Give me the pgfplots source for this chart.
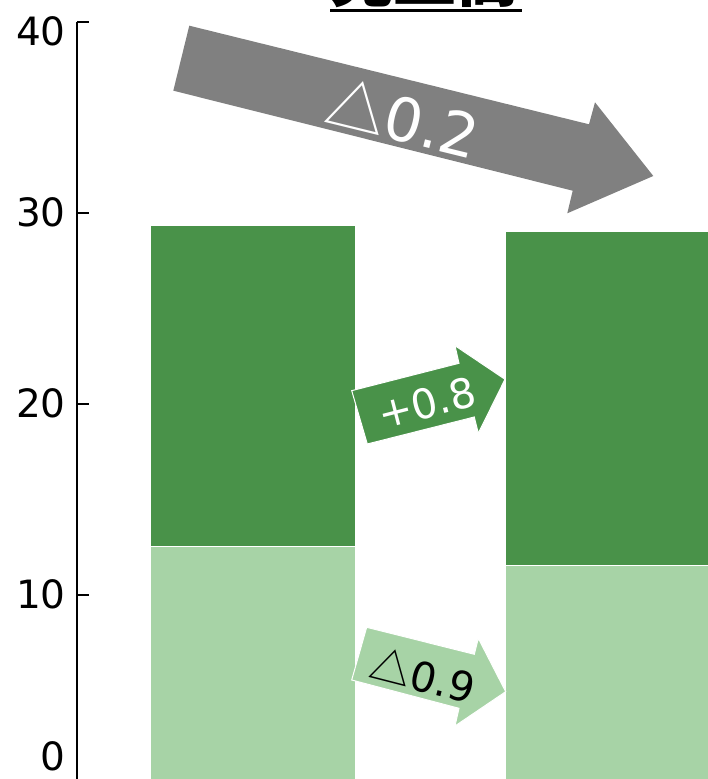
\documentclass[border=0pt]{standalone}
\usepackage{pgfplots}
\pgfplotsset{compat=1.18}
\usepackage{fontspec}
\setmainfont{DejaVu Sans}
\newfontfamily\jp{Noto Sans CJK JP}
\definecolor{darkg}{HTML}{499249}
\definecolor{lightg}{HTML}{A7D3A6}
\definecolor{arrgray}{HTML}{808080}
\begin{document}
\begin{tikzpicture}
\path[use as bounding box] (-77bp,6.6bp) rectangle (631bp,785.6bp);
\clip (-77bp,6.6bp) rectangle (631bp,785.6bp);
\begin{axis}[
  x=355bp, y=19.1bp,
  xmin=-0.4958, xmax=1.6, ymin=0, ymax=40,
  axis y line=left, axis x line=none,
  y axis line style={-, line width=2bp, black},
  xtick=\empty,
  ytick={0,10,20,30,40},
  yticklabels={\raisebox{29.6bp}[0.73em][0pt]{0},10,20,30,\raisebox{-10bp}[0.73em][0pt]{40}},
  yticklabel style={font=\fontsize{39bp}{46bp}\selectfont, text=black, inner xsep=0bp, xshift=-11bp},
  tick align=inside, major tick length=12bp,
  every tick/.style={black, line width=2bp},
  ybar stacked, bar width=0.58,
  clip=false,
]
\addplot[fill=lightg, draw=white, line width=1bp] coordinates {(0,12.5) (1,11.5)};
\addplot[fill=darkg, draw=white, line width=1bp] coordinates {(0,16.8) (1,17.5)};
\end{axis}
\begin{scope}[shift={(-77bp,785.6bp)}, x=1bp, y=-1bp]
  % title (mostly cut off at the top)
  \node[anchor=base, inner sep=0, font=\jp\bfseries\fontsize{63bp}{70bp}\selectfont] at (425.5,1.7) {売上高};
  \fill[black] (330,9.3) rectangle (522,12);
  % gray arrow
  \fill[arrgray] (189.3,25.7) -- (589,124.3) -- (595,102.3) -- (653.3,176) -- (567.3,213.3) -- (572.7,190.7) -- (173.3,90.7) -- cycle;
  \node[rotate=-13.8, text=white, inner sep=0, font=\fontsize{60bp}{70bp}\selectfont] at (403.3,117.3) {{\jp △}0.2};
  % dark green arrow
  \filldraw[fill=darkg, draw=white, line width=1bp] (351.7,390.7) -- (459,363.3) -- (455,345.7) -- (505,379.3) -- (478.3,433.3) -- (474.3,417) -- (367.3,444) -- cycle;
  \node[rotate=14.4, text=white, inner sep=0, font=\fontsize{41bp}{48bp}\selectfont] at (426.7,403) {+0.8};
  % light green arrow
  \filldraw[fill=lightg, draw=white, line width=1bp] (366.7,627.3) -- (474.3,654.3) -- (478.3,638.3) -- (505.7,691.7) -- (455,726) -- (459,708.3) -- (351.7,680) -- cycle;
  \node[rotate=-14.4, text=black, inner sep=0, font=\fontsize{41bp}{48bp}\selectfont] at (423.3,675) {{\jp △}0.9};
\end{scope}
\end{tikzpicture}
\end{document}
